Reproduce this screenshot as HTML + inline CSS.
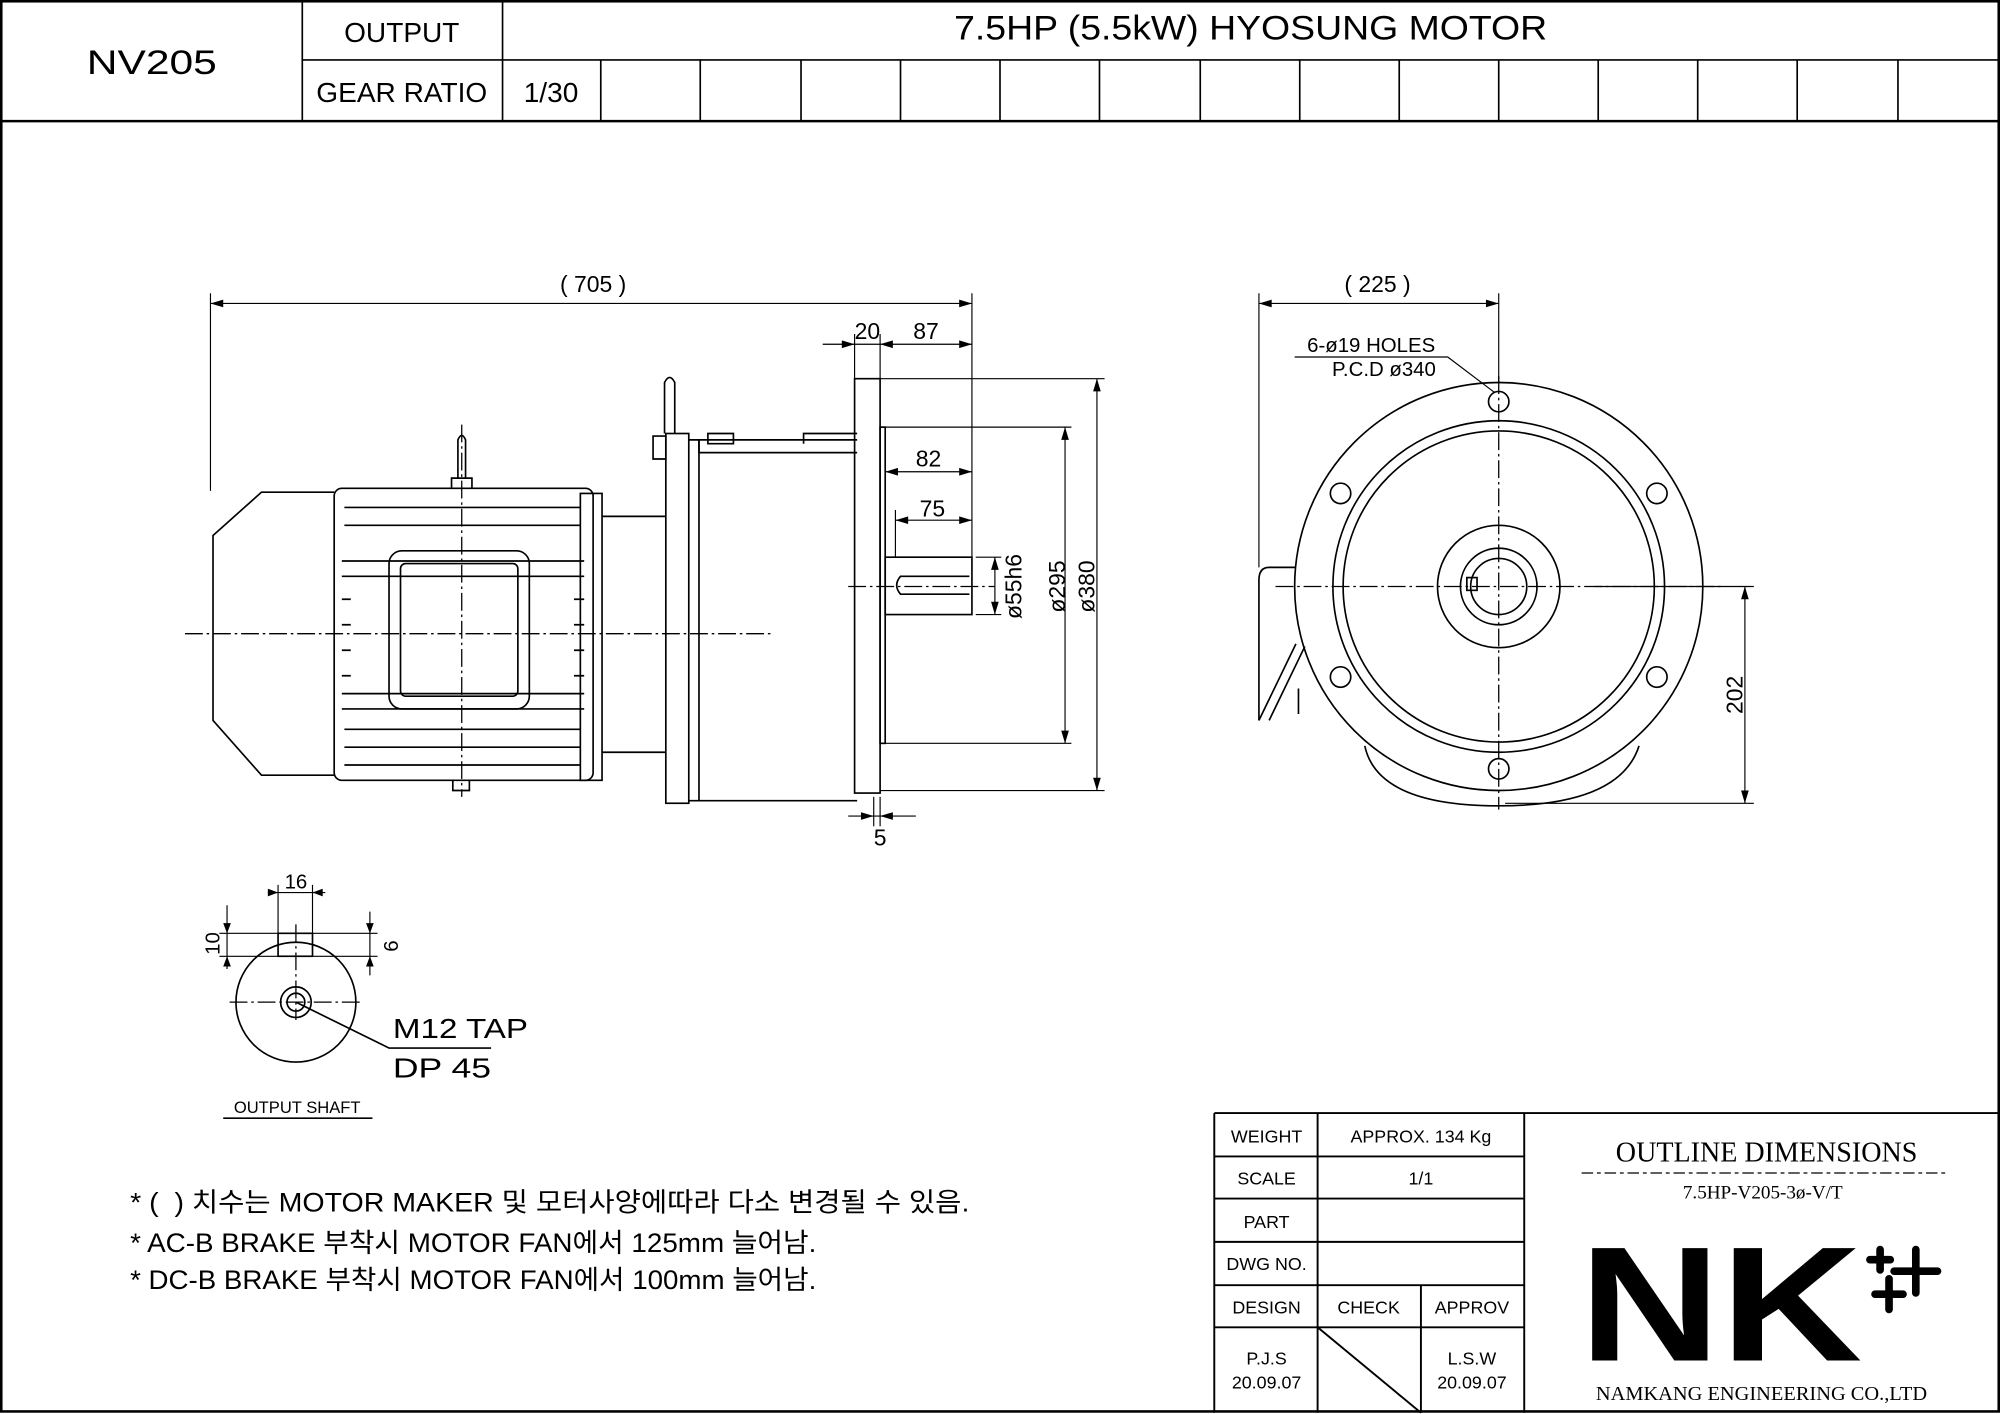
<!DOCTYPE html>
<html><head><meta charset="utf-8"><style>
html,body{margin:0;padding:0;background:#fff}
svg{display:block}
text{font-family:"Liberation Sans","Noto Sans CJK KR",sans-serif;fill:#000}
.s{font-family:"Liberation Serif",serif}
</style></head><body>
<svg width="2000" height="1414" viewBox="0 0 1568 1109" preserveAspectRatio="none" xmlns="http://www.w3.org/2000/svg">
<g fill="none" stroke="#000" stroke-width="1.3">
<rect x="1" y="1" width="1566" height="1106" stroke-width="2"/>
<line x1="1" y1="95" x2="1567" y2="95" stroke-width="2"/>
<line x1="237" y1="47" x2="1567" y2="47"/>
<line x1="237" y1="1" x2="237" y2="95"/>
<line x1="394" y1="1" x2="394" y2="95"/>
<path d="M471 47V95M549 47V95M628 47V95M706 47V95M784 47V95M862 47V95M941 47V95M1019 47V95M1097 47V95M1175 47V95M1253 47V95M1331 47V95M1409 47V95M1488 47V95"/>

<!-- side view -->
<path d="M262 386H205L167 420V565L205 608H262"/>
<rect x="262" y="383" width="203" height="229" rx="6"/>
<path d="M270 398H455M270 412H455M270 572H455M270 586H455M270 600H455"/>
<path d="M268 440H458M268 452H458M268 544H458M268 556H458"/>
<path d="M268 470H275M268 490H275M268 510H275M268 530H275M450 470H458M450 490H458M450 510H458M450 530H458"/>
<rect x="305" y="432" width="110" height="124" rx="10"/>
<rect x="314" y="442" width="92" height="104" rx="4"/>
<path d="M354 383V375H370V383M359 375V345Q362 338 365 345V375"/>
<path d="M355 612V620H368V612"/>
<rect x="455" y="387" width="17" height="225"/>
<path d="M472 405H522M472 590H522"/>
<rect x="522" y="340" width="18" height="290"/>
<path d="M540 345H548V628H540"/>
<path d="M548 345H672M548 628H672M548 345V355H672"/>
<path d="M512 342H522V360H512Z"/>
<path d="M521 340V300Q525 292 529 300V340"/>
<path d="M555 340H575V348H555ZM630 348V340H672"/>
<rect x="670" y="297" width="20" height="325"/>
<rect x="690" y="335" width="4" height="248"/>
<rect x="694" y="437" width="68" height="45"/>
<path d="M760 452H706Q700 459 706 466H760"/>

<!-- front view -->
<circle cx="1175" cy="460" r="160"/>
<circle cx="1175" cy="460" r="130"/>
<circle cx="1175" cy="460" r="122"/>
<circle cx="1175" cy="460" r="48"/>
<circle cx="1175" cy="460" r="30"/>
<circle cx="1175" cy="460" r="22"/>
<rect x="1150" y="453" width="8" height="10"/>
<circle cx="1175" cy="315" r="8"/><circle cx="1175" cy="603" r="8"/>
<circle cx="1051" cy="387" r="8"/><circle cx="1299" cy="387" r="8"/>
<circle cx="1051" cy="531" r="8"/><circle cx="1299" cy="531" r="8"/>
<path d="M1070 585Q1080 632 1175 632Q1270 632 1285 585"/>
<path d="M1016 445H995Q987 445 987 455V565L1016 505M995 565L1023 507"/>
<path d="M1018 540V560"/>

<!-- output shaft -->
<circle cx="232" cy="786" r="47"/>
<circle cx="232" cy="786" r="12"/>
<circle cx="232" cy="786" r="7"/>
<rect x="218" y="732" width="27" height="18"/>
<path d="M232 786L305 822H385M175 877H292"/>
</g>

<g fill="none" stroke="#000" stroke-width="1" stroke-dasharray="14,3,2,3">
<path d="M145 497H605M665 460H780M362 333V625M1175 295V635M1000 460H1350M232 725V800M180 786H285"/>
</g>

<g fill="none" stroke="#000" stroke-width="0.9">
<path d="M165 238H762M165 230V385M762 230V437"/>
<path d="M645 270H762M670 262V297M690 262V297"/>
<path d="M694 370H762M702 408H762M702 400V437"/>
<path d="M765 437H785M765 482H785M780 437V482"/>
<path d="M694 335H840M694 583H840M835 335V583"/>
<path d="M690 297H866M690 620H866M860 297V620"/>
<path d="M665 640H718M685 625V648M690 625V648"/>
<path d="M987 238H1175M987 230V445M1175 230V300"/>
<path d="M1250 460H1375M1180 630H1375M1368 460V630"/>
<path d="M1015 280H1135L1172 308"/>
<path d="M210 700H255M218 694V732M245 694V732"/>
<path d="M172 732H218M172 750H218M178 710V760"/>
<path d="M245 732H296M245 750H296M290 715V765"/>
</g>
<g fill="#000">
<path d="M165 238l10-3v6zM762 238l-10-3v6zM987 238l10-3v6zM1175 238l-10-3v6zM670 270l-10-3v6zM690 270l10-3v6zM762 270l-10-3v6zM694 370l10-3v6zM762 370l-10-3v6zM702 408l10-3v6zM762 408l-10-3v6zM780 437l-3 10h6zM780 482l-3-10h6zM835 335l-3 10h6zM835 583l-3-10h6zM860 297l-3 10h6zM860 620l-3-10h6zM685 640l-10-3v6zM690 640l10-3v6zM1368 460l-3 10h6zM1368 630l-3-10h6zM218 700l-8-3v6zM245 700l8-3v6zM178 732l-3-8h6zM178 750l-3 8h6zM290 732l-3-8h6zM290 750l-3 8h6z"/>
</g>

<text x="68" y="58" font-size="27" textLength="102" lengthAdjust="spacingAndGlyphs">NV205</text>
<text x="315" y="33" font-size="22" text-anchor="middle">OUTPUT</text>
<text x="315" y="80" font-size="22" text-anchor="middle">GEAR RATIO</text>
<text x="432" y="80" font-size="22" text-anchor="middle">1/30</text>
<text x="748" y="31" font-size="27" textLength="465" lengthAdjust="spacingAndGlyphs">7.5HP (5.5kW) HYOSUNG MOTOR</text>

<g font-size="18" text-anchor="middle">
<text x="465" y="229">( 705 )</text>
<text x="680" y="266">20</text><text x="726" y="266">87</text>
<text x="728" y="366">82</text><text x="731" y="405">75</text>
<text x="690" y="663">5</text>
<text x="1080" y="229">( 225 )</text>
<text transform="translate(801,460) rotate(-90)">ø55h6</text>
<text transform="translate(835,460) rotate(-90)">ø295</text>
<text transform="translate(858,460) rotate(-90)">ø380</text>
<text transform="translate(1366,545) rotate(-90)">202</text>
<text x="232" y="697" font-size="16">16</text>
<text transform="translate(172,740) rotate(-90)" font-size="16">10</text>
<text transform="translate(312,742) rotate(-90)" font-size="16">6</text>
</g>
<text x="1075" y="276" font-size="16" text-anchor="middle">6-ø19 HOLES</text>
<text x="1085" y="295" font-size="16" text-anchor="middle">P.C.D ø340</text>
<text x="308" y="814" font-size="22" textLength="106" lengthAdjust="spacingAndGlyphs">M12 TAP</text>
<text x="308" y="845" font-size="22" textLength="77" lengthAdjust="spacingAndGlyphs">DP 45</text>
<text x="233" y="873" font-size="13" text-anchor="middle">OUTPUT SHAFT</text>

<g font-size="21">
<text x="102" y="950" textLength="658" lengthAdjust="spacingAndGlyphs">* (&#160;&#160;) 치수는 MOTOR MAKER 및 모터사양에따라 다소 변경될 수 있음.</text>
<text x="102" y="982" textLength="538" lengthAdjust="spacingAndGlyphs">* AC-B BRAKE 부착시 MOTOR FAN에서 125mm 늘어남.</text>
<text x="102" y="1011" textLength="538" lengthAdjust="spacingAndGlyphs">* DC-B BRAKE 부착시 MOTOR FAN에서 100mm 늘어남.</text>
</g>

<g fill="none" stroke="#000" stroke-width="1.5">
<path d="M952 873H1567M952 873V1108M1033 873V1108M1195 873V1108M1114 1008V1108"/>
<path d="M952 907H1195M952 940H1195M952 974H1195M952 1008H1195M952 1041H1195"/>
<path d="M1033 1041L1114 1108"/>
<path d="M1240 920H1527" stroke-dasharray="9,3,3,3" stroke-width="1"/>
</g>
<g font-size="14" text-anchor="middle">
<text x="993" y="896">WEIGHT</text><text x="1114" y="896">APPROX. 134 Kg</text>
<text x="993" y="929">SCALE</text><text x="1114" y="929">1/1</text>
<text x="993" y="963">PART</text>
<text x="993" y="996">DWG NO.</text>
<text x="993" y="1030">DESIGN</text><text x="1073" y="1030">CHECK</text><text x="1154" y="1030">APPROV</text>
<text x="993" y="1070">P.J.S</text><text x="993" y="1089">20.09.07</text>
<text x="1154" y="1070">L.S.W</text><text x="1154" y="1089">20.09.07</text>
</g>
<text class="s" x="1385" y="911" font-size="22" text-anchor="middle">OUTLINE DIMENSIONS</text>
<text class="s" x="1382" y="940" font-size="15" text-anchor="middle">7.5HP-V205-3ø-V/T</text>
<text x="1238" y="1067" font-size="128" font-weight="bold" textLength="222" lengthAdjust="spacingAndGlyphs">NK</text>
<g stroke="#000" stroke-width="6" stroke-linecap="round">
<path d="M1474 980V996M1466 988H1482M1502 980V1014M1485 997H1519M1481 1003V1027M1470 1015H1492"/>
</g>
<text class="s" x="1381" y="1098" font-size="16" text-anchor="middle">NAMKANG ENGINEERING CO.,LTD</text>
</svg>
</body></html>
